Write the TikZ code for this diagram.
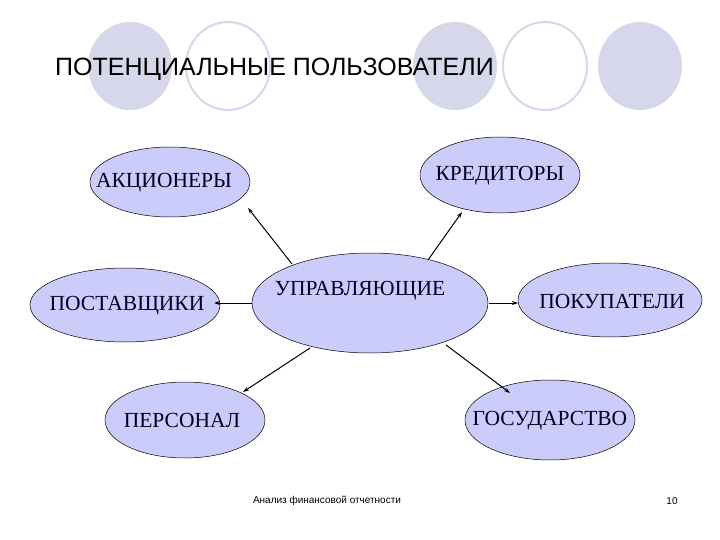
\documentclass[tikz,border=0pt]{standalone}
\usepackage{fontspec}
\setmainfont{Liberation Serif}
\newfontfamily\arial{Liberation Sans}
\usetikzlibrary{shapes.geometric,arrows.meta}
\definecolor{bgc}{RGB}{215,215,236}
\definecolor{elc}{RGB}{204,204,250}
\begin{document}
\begin{tikzpicture}[x=1pt,y=-1pt,
 bub/.style={ellipse,draw=black,fill=elc,line width=0.5pt,inner sep=0pt},
 lab/.style={font=\fontsize{21.5}{24}\selectfont,text=black!85!blue},
 arr/.style={-{Stealth[length=6pt,width=4pt]},line width=1pt}]
\path[use as bounding box] (0,0) rectangle (720,540);
\fill[white] (0,0) rectangle (720,540);
\foreach \x in {130,455,640} \fill[bgc] (\x,66) ellipse [x radius=42,y radius=44];
\foreach \x in {228,545} \draw[bgc,line width=2pt] (\x,66) ellipse [x radius=42,y radius=44];
\node[anchor=base west,font=\arial\fontsize{25}{28}\selectfont,inner sep=0] (title) at (55,76) {ПОТЕНЦИАЛЬНЫЕ ПОЛЬЗОВАТЕЛИ};
\node[bub,minimum width=160,minimum height=70] (a) at (170,182) {};
\node[bub,minimum width=160,minimum height=76] (k) at (500,175) {};
\node[bub,minimum width=190,minimum height=74] (p) at (125,305) {};
\node[bub,minimum width=236,minimum height=100] (u) at (370,303) {};
\node[bub,minimum width=184,minimum height=74] (b) at (610,300) {};
\node[bub,minimum width=160,minimum height=76] (s) at (185,420) {};
\node[bub,minimum width=170,minimum height=80] (g) at (550,420) {};
\node[lab] (ta) at (164,183) {АКЦИОНЕРЫ};
\node[lab] (tk) at (500,176) {КРЕДИТОРЫ};
\node[lab] (tp) at (127,306) {ПОСТАВЩИКИ};
\node[lab] (tu) at (360,291) {УПРАВЛЯЮЩИЕ};
\node[lab] (tb) at (612,301) {ПОКУПАТЕЛИ};
\node[lab] (ts) at (182,420) {ПЕРСОНАЛ};
\node[lab] (tg) at (550,421) {ГОСУДАРСТВО};
\coordinate (ua) at (292,264); \coordinate (a1) at (248,208);
\coordinate (uk) at (428,260); \coordinate (k1) at (462,212);
\coordinate (ul) at (252,303); \coordinate (p1) at (214,303);
\coordinate (ur) at (489,303); \coordinate (b1) at (518,303);
\coordinate (us) at (310,348); \coordinate (s1) at (243,392);
\coordinate (ug) at (446,345); \coordinate (g1) at (510,393);
\draw[arr] (ua) -- (a1);
\draw[arr] (uk) -- (k1);
\draw[arr] (ul) -- (p1);
\draw[arr] (ur) -- (b1);
\draw[arr] (us) -- (s1);
\draw[arr] (ug) -- (g1);
\node[font=\arial\fontsize{10}{12}\selectfont] (f) at (327,501) {Анализ финансовой отчетности};
\node[font=\arial\fontsize{10}{12}\selectfont] (n) at (672,501) {10};
\end{tikzpicture}
\end{document}
